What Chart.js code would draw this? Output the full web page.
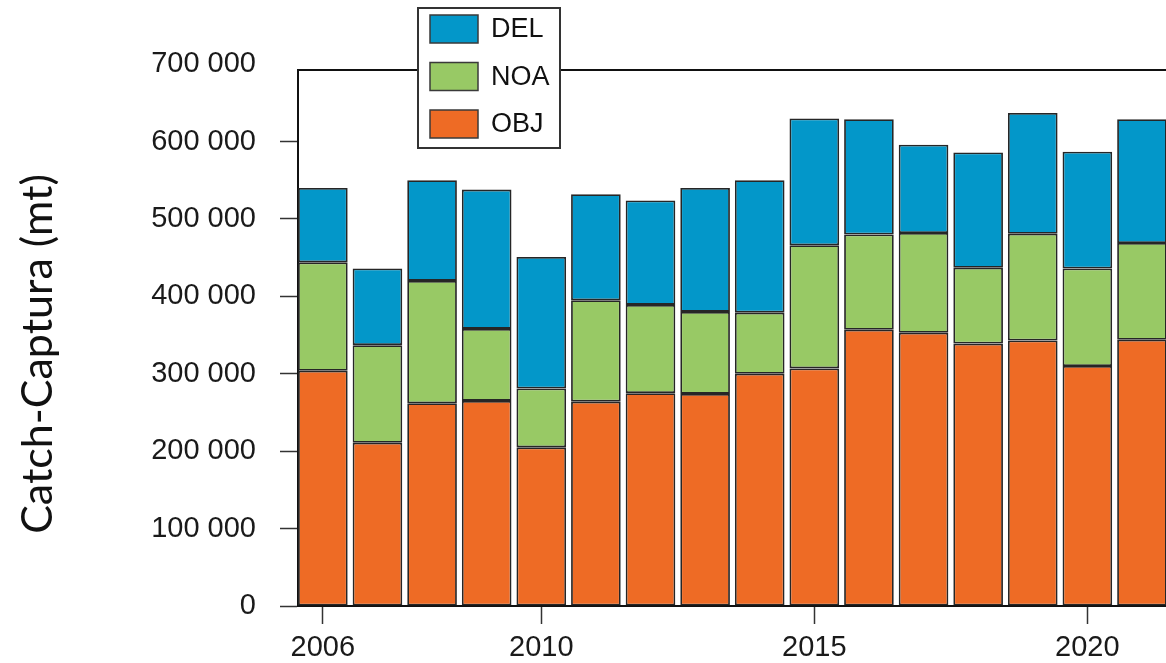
<!DOCTYPE html>
<html><head><meta charset="utf-8">
<script src="https://cdn.jsdelivr.net/npm/chart.js@4.4.0/dist/chart.umd.min.js"></script>
<style>html,body{margin:0;padding:0;background:#fff;overflow:hidden}</style>
</head><body>
<canvas id="c" width="1166" height="663"></canvas>
<script>
// ---- data ----
const years = [2006,2007,2008,2009,2010,2011,2012,2013,2014,2015,2016,2017,2018,2019,2020,2021];
const objValues = [304000,211000,262000,265000,205000,264000,275000,274000,300000,307000,357000,353000,339000,343000,310000,344000];
const noaValues = [140000,126000,158000,93000,76000,131000,114000,106000,79000,159000,123000,129000,98000,138000,126000,125000];
const delValues = [96000,99000,130000,180000,170000,137000,135000,160000,171000,164000,149000,114000,149000,156000,151000,160000];
const seriesNames = ['OBJ','NOA','DEL'];
const yTickValues = [0,100000,200000,300000,400000,500000,600000,700000];
const xTickYears = [2006,2010,2015,2020];
const yTitle = 'Catch-Captura (mt)';

// ---- styles ----
const colors = {OBJ:'#EE6B25', NOA:'#98C965', DEL:'#0397C9'};
const FONT = "'Liberation Sans', Arial, sans-serif";
const YMAX = 692500;

const toPoints = arr => arr.map((v,i)=>({x:years[i], y:v}));
const seriesData = {OBJ:objValues, NOA:noaValues, DEL:delValues};

const datasets = seriesNames.map(n=>({
  label:n,
  data:toPoints(seriesData[n]),
  backgroundColor:colors[n],
  borderColor:'#262626',
  borderWidth:1.8,
  borderSkipped:false,
  categoryPercentage:1,
  barPercentage:0.909,
  stack:'s'
}));

const fmt = v => String(v).replace(/\B(?=(\d{3})+(?!\d))/g,' ');

const legendBox = {
  id:'legendBox',
  afterDraw(chart){
    const ctx = chart.ctx;
    ctx.save();
    ctx.fillStyle='#fff';
    ctx.fillRect(418,8,142,140);
    ctx.strokeStyle='#333';
    ctx.lineWidth=2;
    ctx.strokeRect(418,8,142,140);
    const items = chart.data.datasets.slice().reverse();
    items.forEach((ds,i)=>{
      const y = 15 + i*47.5;
      ctx.fillStyle = ds.backgroundColor;
      ctx.fillRect(430,y,48,28);
      ctx.strokeStyle='#3a3a3a';
      ctx.lineWidth=1.5;
      ctx.strokeRect(430,y,48,28);
      ctx.fillStyle='#111';
      ctx.font = "27px "+FONT;
      ctx.textBaseline='middle';
      ctx.textAlign='left';
      ctx.fillText(ds.label, 491, y+15);
    });
    // y-axis title
    ctx.translate(38,354);
    ctx.rotate(-Math.PI/2);
    ctx.font = "43px Lato, 'Liberation Sans', sans-serif";
    ctx.fillStyle='#111';
    ctx.textAlign='center';
    ctx.textBaseline='middle';
    ctx.fillText(yTitle,0,0);
    ctx.restore();
  }
};

new Chart(document.getElementById('c'),{
  type:'bar',
  data:{datasets},
  options:{
    responsive:false,
    animation:false,
    devicePixelRatio:1,
    layout:{padding:{top:70,left:0,right:0,bottom:0}},
    plugins:{legend:{display:false},tooltip:{enabled:false}},
    scales:{
      x:{
        type:'linear',
        stacked:true,
        offset:false,
        min:2005.545,
        max:2021.44,
        afterBuildTicks(s){ s.ticks = xTickYears.map(v=>({value:v})); },
        afterFit(s){ s.height = 57; },
        grid:{display:true,offset:false,drawOnChartArea:false,drawTicks:true,tickLength:18,tickColor:'#333',tickWidth:1.5},
        border:{display:true,color:'#111',width:2},
        ticks:{font:{size:29,family:FONT},color:'#1a1a1a',padding:7,autoSkip:false,maxRotation:0,callback:v=>String(v)}
      },
      x2:{
        type:'linear',
        position:'top',
        display:true,
        offset:false,
        grid:{display:false},
        ticks:{display:false},
        border:{display:true,color:'#111',width:2},
        afterFit(s){ s.height = 0; }
      },
      y:{
        stacked:true,
        min:0,
        max:YMAX,
        afterBuildTicks(s){ s.ticks = yTickValues.map(v=>({value:v})); },
        afterFit(s){ s.width = 298; },
        grid:{display:true,drawOnChartArea:false,drawTicks:true,tickLength:18,tickWidth:1.5,
          tickColor:c=> (c.tick && c.tick.value > YMAX) ? 'rgba(0,0,0,0)' : '#333'},
        border:{display:true,color:'#111',width:2},
        ticks:{font:{size:29,family:FONT},color:'#1a1a1a',padding:24,autoSkip:false,callback:v=>fmt(v)}
      }
    }
  },
  plugins:[legendBox]
});
</script>
</body></html>
